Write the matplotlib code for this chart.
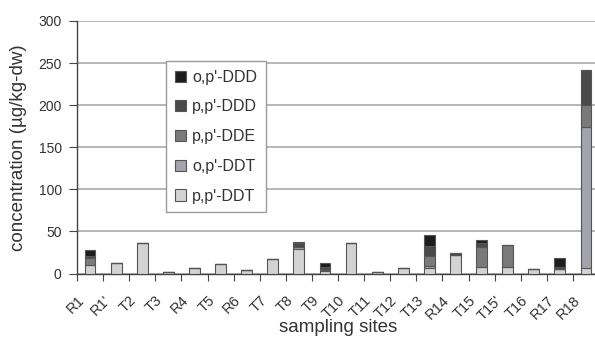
import matplotlib
matplotlib.use("Agg")
import matplotlib.pyplot as plt
import numpy as np

plt.rcParams['font.family'] = ['Liberation Sans', 'DejaVu Sans']

sites = ["R1", "R1'", "T2", "T3", "R4", "T5", "R6", "T7", "T8", "T9",
         "T10", "T11", "T12", "T13", "R14", "T15", "T15'", "T16", "R17", "R18"]

# concentrations (µg/kg-dw) per compound, stacked bottom to top
pp_DDT = [10, 12, 36, 2, 7, 11, 4.5, 17, 29, 3,
          36.5, 2, 6, 6, 22.5, 8, 8, 5, 5, 6]
op_DDT = [0, 0, 0, 0, 0, 0, 0, 0, 3, 1,
          0, 0, 0, 3, 0, 0, 0, 0, 0, 168.5]
pp_DDE = [9, 0, 0, 0, 0, 0, 0, 0, 0, 0,
          0, 0, 0, 12, 0, 24, 26, 0, 0, 26]
pp_DDD = [2, 0, 0, 0, 0, 0, 0, 0, 4, 4,
          0, 0, 0, 12, 1.5, 4, 0, 0, 3, 41]
op_DDD = [7, 0, 0, 0, 0, 0, 0, 0, 1, 5,
          0, 0, 0, 13, 0, 4, 0, 0, 11, 0]

series = [
    ("p,p'-DDT", pp_DDT, "#d3d3d3"),
    ("o,p'-DDT", op_DDT, "#a3a3ad"),
    ("p,p'-DDE", pp_DDE, "#7a7a7a"),
    ("p,p'-DDD", pp_DDD, "#4a4a4a"),
    ("o,p'-DDD", op_DDD, "#1c1c1c"),
]

fig = plt.figure(figsize=(5.95, 3.38), dpi=100)
ax = fig.add_axes([77 / 595, 1 - 273.5 / 338, 522 / 595, (273.5 - 21) / 338])

x = np.arange(len(sites))
bottom = np.zeros(len(sites))
handles = []
for name, vals, color in series:
    vals = np.array(vals, dtype=float)
    bars = ax.bar(x, vals, width=0.41, bottom=bottom, color=color,
                  edgecolor="#555555", linewidth=0.8, label=name, zorder=3)
    handles.append(bars)
    bottom += vals

ax.set_xlim(-0.5, len(sites) - 0.5)
ax.set_ylim(0, 300)
ax.set_yticks(np.arange(0, 301, 50))
ax.yaxis.grid(True, color="#aaaaaa", linewidth=1.2, zorder=0)
ax.set_axisbelow(True)

for side in ("top", "right"):
    ax.spines[side].set_visible(False)
for side in ("left", "bottom"):
    ax.spines[side].set_color("#444444")
    ax.spines[side].set_linewidth(1.0)

ax.set_xticks(x - 0.5)
ax.set_xticklabels(sites, rotation=45, ha="right", va="top",
                   rotation_mode="anchor", fontsize=10.5, color="#333333")
ax.tick_params(axis="x", length=5, color="#444444", pad=9)
ax.tick_params(axis="y", length=6, color="#444444", labelsize=10,
               labelcolor="#333333", pad=5)

ax.set_ylabel("concentration (µg/kg-dw)", fontsize=13.5, color="#333333",
              va="center")
ax.yaxis.set_label_coords(-59 / 522, 0.5)
ax.set_xlabel("sampling sites", fontsize=13.5, color="#333333", va="center")
ax.xaxis.set_label_coords(0.5, -0.212)

leg = ax.legend(handles[::-1], [s[0] for s in series][::-1],
                loc="upper left", bbox_to_anchor=(166 / 595, 1 - 61 / 338),
                bbox_transform=fig.transFigure, borderaxespad=0,
                fontsize=11.5, frameon=True, fancybox=False,
                handlelength=0.7, handleheight=0.7, handletextpad=0.4,
                labelspacing=0.92, borderpad=0.55, labelcolor="#333333")
leg.get_frame().set_edgecolor("#999999")
leg.get_frame().set_linewidth(1.0)
leg.get_frame().set_alpha(1)

fig.savefig("out.png", dpi=100)
